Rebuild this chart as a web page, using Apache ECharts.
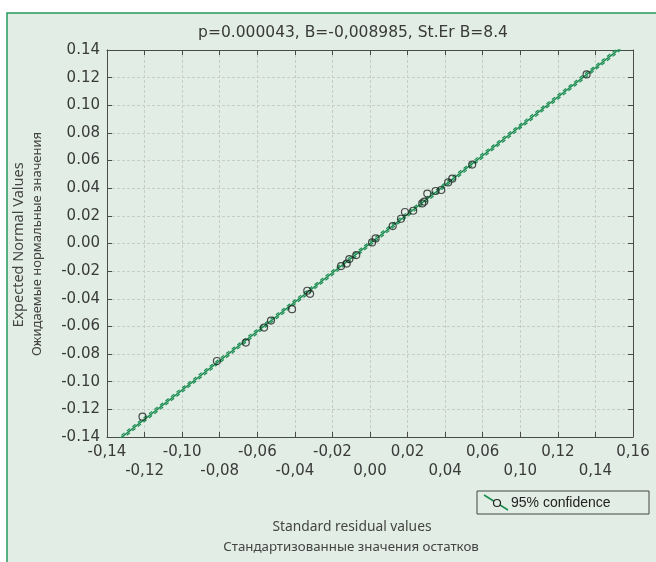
<!DOCTYPE html>
<html>
<head>
<meta charset="utf-8">
<script src="https://cdn.jsdelivr.net/npm/echarts@6/dist/echarts.min.js"></script>
<style>
html,body{margin:0;padding:0;background:#fff;}
#c{width:656px;height:562px;}
</style>
</head>
<body>
<div id="c"></div>
<script>
// ---- data ----
const titleText = 'p=0.000043, B=-0,008985, St.Er B=8.4';
const xNameLines = ['Standard residual values', 'Стандартизованные значения остатков'];
const yNameLines = ['Expected Normal Values', 'Ожидаемые нормальные значения'];
const legendLabel = '95% confidence';
const xTickLabels = ['-0,14','-0,12','-0,10','-0,08','-0,06','-0,04','-0,02','0,00','0,02','0,04','0,06','0,10','0,12','0,14','0,16'];
const residualX = [-0.1211,-0.0815,-0.0661,-0.0564,-0.0527,-0.0415,-0.0334,-0.0319,-0.0154,-0.0124,-0.0110,-0.0073,0.0011,0.0030,0.0121,0.0165,0.0186,0.0230,0.0278,0.0289,0.0305,0.0349,0.0379,0.0416,0.0438,0.0544,0.1153];
const expectedY = [-0.1253,-0.0850,-0.0717,-0.0608,-0.0558,-0.0475,-0.0342,-0.0364,-0.0163,-0.0145,-0.0113,-0.0084,0.0008,0.0037,0.0126,0.0179,0.0228,0.0237,0.0290,0.0303,0.0361,0.0380,0.0387,0.0442,0.0469,0.0571,0.1223];
const fitX = [-0.15, 0.15];
const fitY = [-0.159, 0.159];
const upperY = [-0.1575, 0.1605];
const lowerY = [-0.1605, 0.1575];

// ---- build ----
const pts = residualX.map((x,i)=>[x, expectedY[i]]);
const pair = (ys)=>fitX.map((x,i)=>[x, ys[i]]);
const green = '#1a8c50';
const tickFont = '"DejaVu Sans", "Noto Sans", sans-serif';
const nameFont = '"Noto Sans", "Open Sans", sans-serif';
const axisCol = '#4a4a4a';
const gridCol = '#c6ccc8';
const txtCol = '#3a3a3a';

const chart = echarts.init(document.getElementById('c'), null, {renderer:'canvas'});
const baseAxis = {
  type:'value', min:-0.14, max:0.14, interval:0.02,
  axisLine:{show:true, onZero:false, lineStyle:{color:axisCol, width:1}},
  axisTick:{show:true, inside:true, length:5, lineStyle:{color:axisCol}},
};
const xLabel = (parity)=>(v)=>{
  const i = Math.round((v + 0.14)/0.02);
  const t = xTickLabels[i] !== undefined ? xTickLabels[i] : '';
  return (i % 2 === parity) ? t : '';
};
chart.setOption({
  backgroundColor:'#ffffff',
  animation:false,
  graphic:[
    {type:'rect', z:-10, shape:{x:7, y:13, width:700, height:600}, style:{fill:'#e1ede5', stroke:'#239a5c', lineWidth:1.5}},
    {type:'text', x:353, y:33, style:{text:titleText, font:'15.5px '+tickFont, fill:txtCol, textAlign:'center', textVerticalAlign:'middle'}},
    {type:'text', x:19, y:245, rotation:Math.PI/2, style:{text:yNameLines[0], font:'14.5px '+nameFont, fill:'#444', textAlign:'center', textVerticalAlign:'middle'}},
    {type:'text', x:37, y:244, rotation:Math.PI/2, style:{text:yNameLines[1], font:'13px '+nameFont, fill:'#444', textAlign:'center', textVerticalAlign:'middle'}},
    {type:'text', x:352, y:527, style:{text:xNameLines[0], font:'13.8px '+nameFont, fill:'#444', textAlign:'center', textVerticalAlign:'middle'}},
    {type:'text', x:351, y:547, style:{text:xNameLines[1], font:'13.3px '+nameFont, fill:'#444', textAlign:'center', textVerticalAlign:'middle'}},
    {type:'rect', shape:{x:477, y:491, width:172, height:23}, style:{fill:'none', stroke:'#444', lineWidth:1}},
    {type:'line', shape:{x1:484, y1:495, x2:508, y2:510}, style:{stroke:green, lineWidth:1.5}},
    {type:'circle', shape:{cx:497, cy:503, r:3.5}, style:{fill:'#e1ede5', stroke:'#222', lineWidth:1.2}},
    {type:'text', x:511, y:503, style:{text:legendLabel, font:'14px "Liberation Sans", Arial, sans-serif', fill:'#222', textAlign:'left', textVerticalAlign:'middle'}}
  ],
  grid:{left:107, right:23, top:50, bottom:125, show:false},
  xAxis:[
    Object.assign({}, baseAxis, {
      position:'bottom',
      splitLine:{show:true, lineStyle:{color:gridCol, type:[3,2], width:1}},
      axisLabel:{
        color:txtCol, fontSize:15, fontFamily:tickFont, margin:8,
        showMinLabel:true, showMaxLabel:true, hideOverlap:false, interval:0,
        formatter:xLabel(0)
      }
    }),
    Object.assign({}, baseAxis, {position:'top', axisLabel:{show:false}, splitLine:{show:false}}),
    Object.assign({}, baseAxis, {
      position:'bottom', axisLine:{show:false}, axisTick:{show:false}, splitLine:{show:false},
      axisLabel:{
        color:txtCol, fontSize:15, fontFamily:tickFont, margin:27,
        showMinLabel:true, showMaxLabel:true, hideOverlap:false, interval:0,
        formatter:xLabel(1)
      }
    })
  ],
  yAxis:[
    Object.assign({}, baseAxis, {
      position:'left',
      splitLine:{show:true, lineStyle:{color:gridCol, type:[3,2], width:1}},
      axisLabel:{color:txtCol, fontSize:15, fontFamily:tickFont, margin:7,
        showMinLabel:true, showMaxLabel:true,
        formatter:(v)=>v.toFixed(2)}
    }),
    Object.assign({}, baseAxis, {position:'right', axisLabel:{show:false}, splitLine:{show:false}})
  ],
  series:[
    {type:'line', name:'fit', data:pair(fitY), showSymbol:false, clip:true, lineStyle:{color:green, width:1.5}, z:3},
    {type:'line', name:'upper', data:pair(upperY), showSymbol:false, clip:true, lineStyle:{color:green, width:1.2, type:[4,3]}, z:3},
    {type:'line', name:'lower', data:pair(lowerY), showSymbol:false, clip:true, lineStyle:{color:green, width:1.2, type:[4,3]}, z:3},
    {type:'scatter', name:legendLabel, data:pts, symbol:'circle', symbolSize:7, clip:false,
      itemStyle:{color:'rgba(0,0,0,0)', borderColor:'#222', borderWidth:1.2}, z:5}
  ]
});
</script>
</body>
</html>
